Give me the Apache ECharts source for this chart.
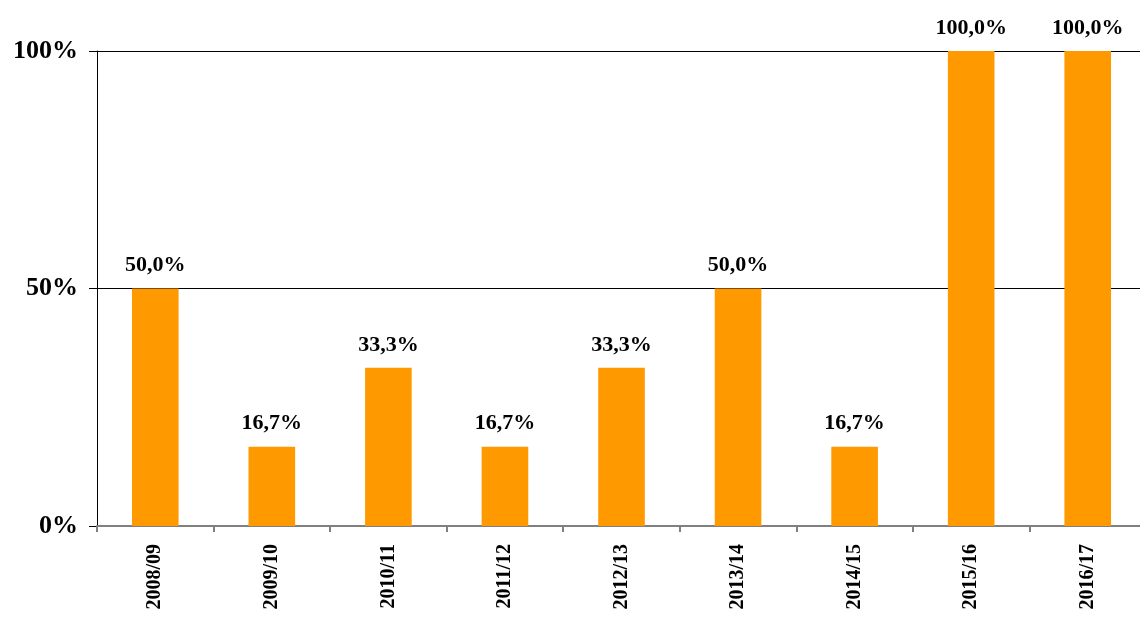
<!DOCTYPE html>
<html>
<head>
<meta charset="utf-8">
<script src="https://cdn.jsdelivr.net/npm/echarts@6/dist/echarts.min.js"></script>
<style>html,body{margin:0;padding:0;background:#fff}#c{width:1140px;height:619px}</style>
</head>
<body>
<div id="c"></div>
<script>
const categories = ['2008/09','2009/10','2010/11','2011/12','2012/13','2013/14','2014/15','2015/16','2016/17'];
const values = [50.0, 16.7, 33.3, 16.7, 33.3, 50.0, 16.7, 100.0, 100.0];
const yTicks = [0, 50, 100];

const font = '"Liberation Serif", "Times New Roman", serif';
const chart = echarts.init(document.getElementById('c'), null, {renderer: 'canvas'});
chart.setOption({
  animation: false,
  grid: {left: 97, width: 1049, top: 51, bottom: 93, containLabel: false, outerBoundsMode: 'none'},
  xAxis: {
    type: 'category',
    data: categories,
    axisLine: {show: true, lineStyle: {color: '#808080', width: 2}},
    axisTick: {show: true, length: 6, lineStyle: {color: '#808080', width: 2}},
    axisLabel: {rotate: 90, margin: 18, color: '#000', fontFamily: font, fontWeight: 'bold', fontSize: 20}
  },
  yAxis: {
    type: 'value', min: 0, max: 100, interval: 50,
    axisLine: {show: true, lineStyle: {color: '#000', width: 1}},
    axisTick: {show: true, inside: false, length: 8, lineStyle: {color: '#000'}},
    splitLine: {show: true, lineStyle: {color: '#000', width: 1}},
    axisLabel: {
      margin: 19, color: '#000', fontFamily: font, fontWeight: 'bold', fontSize: 26,
      formatter: v => yTicks.includes(v) ? v + '%' : ''
    }
  },
  series: [{
    type: 'bar',
    data: values,
    barWidth: '40%',
    itemStyle: {color: '#FF9900'},
    label: {
      show: true, position: 'top', distance: 12,
      color: '#000', fontFamily: font, fontWeight: 'bold', fontSize: 22,
      formatter: p => p.value.toFixed(1).replace('.', ',') + '%'
    }
  }]
});
</script>
</body>
</html>
